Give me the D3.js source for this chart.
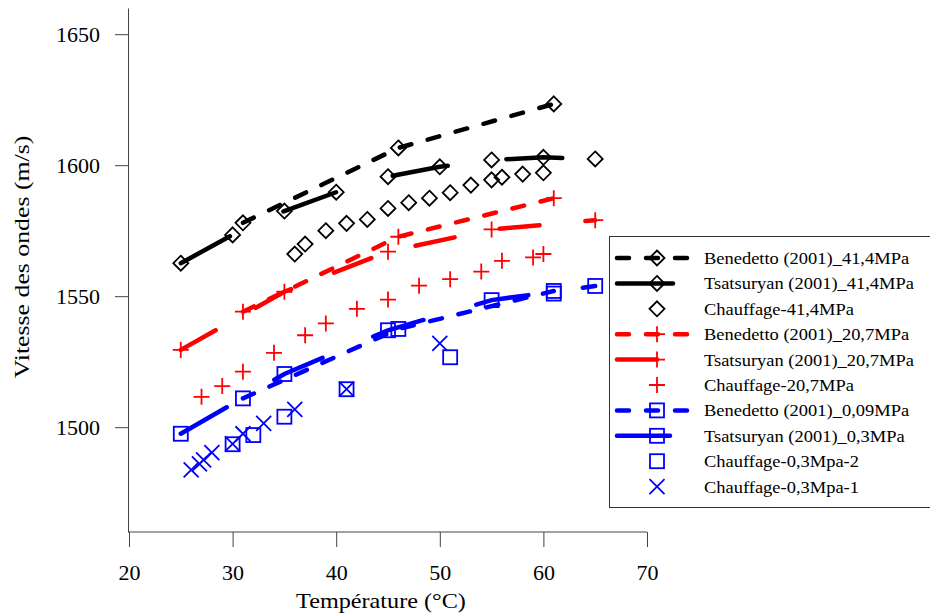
<!DOCTYPE html>
<html>
<head>
<meta charset="utf-8">
<script src="https://cdn.jsdelivr.net/npm/d3@7"></script>
<style>
  body { margin: 0; background: #fff; }
  svg { display: block; font-family: "Liberation Serif", "Times New Roman", serif; }
  .axis path, .axis line { stroke: #444; stroke-width: 1; }
  .axis text { font-size: 22px; fill: #000; font-family: "Liberation Serif", serif; }
</style>
</head>
<body>
<svg id="chart" width="930" height="614"></svg>
<script>
// ---- données ----
const benedettoT = [31, 46, 61];
const benedetto414 = [1578, 1606.6, 1623.4];
const benedetto207 = [1544.1, 1572.7, 1587.4];
const benedetto009 = [1511, 1537.5, 1552];

const tsatT414 = [25, 30, 35, 40, 45, 50, 55, 60, 65];
const tsat414 = [1562.6, 1573.4, 1582.5, 1589.7, 1595.6, 1599.4, 1602, 1603, 1602.4];
const tsatT = [25, 35, 45, 55, 65];
const tsat207 = [1529.5, 1551.7, 1567, 1575.5, 1579];
const tsat03 = [1497.5, 1520.3, 1537, 1548.5, 1553.9];

const chauffT414 = [36, 37, 39, 41, 43, 45, 47, 49, 51, 53, 55, 56, 58, 60];
const chauff414 = [1566.1, 1569.9, 1575, 1577.8, 1579.3, 1583.5, 1585.7, 1587.4, 1589.5, 1592.4, 1594.4, 1595.4, 1596.6, 1597.1];
const chauffT207 = [27, 29, 31, 34, 37, 39, 42, 45, 48, 51, 54, 56, 59, 60];
const chauff207 = [1511.6, 1515.7, 1521.2, 1528.4, 1535.1, 1539.6, 1545.2, 1548.7, 1554, 1556.5, 1559.4, 1563.5, 1564.8, 1566.1];
const chauffT03b = [30, 32, 35, 41, 51, 61];
const chauff03b = [1493.5, 1497, 1504, 1514.5, 1526.7, 1551];
const chauffT03a = [26, 26.8, 27.2, 28, 30, 31, 33, 36, 41, 50];
const chauff03a = [1483.7, 1486, 1487.5, 1490.3, 1493.6, 1497.5, 1501.5, 1506.8, 1514.5, 1532];

const xTicks = [20, 30, 40, 50, 60, 70];
const yTicks = [1500, 1550, 1600, 1650];

const zip = (xs, ys) => xs.map((x, i) => [x, ys[i]]);

// ---- séries ----
const series = [
  { name: "Benedetto (2001)_41,4MPa", color: "#000", dash: "12,17", sym: "diamond", pts: zip(benedettoT, benedetto414) },
  { name: "Tsatsuryan (2001)_41,4MPa", color: "#000", dash: "56,59", sym: "diamond", pts: zip(tsatT414, tsat414) },
  { name: "Chauffage-41,4MPa", color: "#000", dash: null, sym: "diamond", pts: zip(chauffT414, chauff414) },
  { name: "Benedetto (2001)_20,7MPa", color: "#ff0000", dash: "12,17", sym: "plus", pts: zip(benedettoT, benedetto207) },
  { name: "Tsatsuryan (2001)_20,7MPa", color: "#ff0000", dash: "40,46", sym: "plus", pts: zip(tsatT, tsat207) },
  { name: "Chauffage-20,7MPa", color: "#ff0000", dash: null, sym: "plus", pts: zip(chauffT207, chauff207) },
  { name: "Benedetto (2001)_0,09MPa", color: "#0000ff", dash: "12,17", sym: "square", pts: zip(benedettoT, benedetto009) },
  { name: "Tsatsuryan (2001)_0,3MPa", color: "#0000ff", dash: "53,55", sym: "square", pts: zip(tsatT, tsat03) },
  { name: "Chauffage-0,3Mpa-2", color: "#0000ff", dash: null, sym: "square", pts: zip(chauffT03b, chauff03b) },
  { name: "Chauffage-0,3Mpa-1", color: "#0000ff", dash: null, sym: "cross", pts: zip(chauffT03a, chauff03a) }
];

// ---- géométrie ----
const svg = d3.select("#chart");
const plotLeft = 128, plotRight = 647, plotTop = 8, plotBottom = 532;

const x = d3.scaleLinear().domain([20, 70]).range([plotLeft + 1, plotRight]);
const y = d3.scaleLinear().domain([1460, 1660]).range([plotBottom, plotTop]);

// axes
svg.append("g")
    .attr("class", "axis")
    .attr("transform", `translate(0,${plotBottom})`)
    .call(d3.axisBottom(x).tickValues(xTicks).tickSize(15).tickSizeOuter(0).tickPadding(17).tickFormat(d3.format("d")))
    .call(g => g.select(".domain").attr("d", `M${plotLeft},0H${plotRight}`));

svg.append("g")
    .attr("class", "axis")
    .attr("transform", `translate(${plotLeft},0)`)
    .call(d3.axisLeft(y).tickValues(yTicks).tickSize(13).tickSizeOuter(0).tickPadding(15).tickFormat(d3.format("d")));

// le texte de la figure d'origine est un peu étiré en largeur
svg.append("text")
    .attr("transform", "translate(381,608) scale(1.1,1)")
    .attr("text-anchor", "middle")
    .style("font-size", "22px")
    .text("Température (°C)");

svg.append("text")
    .attr("transform", "translate(29,257) rotate(-90) scale(1.2,1)")
    .attr("text-anchor", "middle")
    .style("font-size", "21.5px")
    .text("Vitesse des ondes (m/s)");

// ---- symboles ----
function drawSymbol(g, sym, color) {
    const r = 7.5;
    if (sym === "diamond") {
        g.append("path").attr("d", `M0,${-r}L${r},0L0,${r}L${-r},0Z`)
            .attr("fill", "none").attr("stroke", color).attr("stroke-width", 1.8);
    } else if (sym === "square") {
        g.append("rect").attr("x", -7).attr("y", -7).attr("width", 14).attr("height", 14)
            .attr("fill", "none").attr("stroke", color).attr("stroke-width", 1.8);
    } else if (sym === "plus") {
        g.append("path").attr("d", `M-8,0H8M0,-8V8`)
            .attr("stroke", color).attr("stroke-width", 1.8);
    } else if (sym === "cross") {
        g.append("path").attr("d", `M-7.5,-7.5L7.5,7.5M-7.5,7.5L7.5,-7.5`)
            .attr("stroke", color).attr("stroke-width", 1.8);
    }
}

const line = d3.line().x(d => x(d[0])).y(d => y(d[1]));
const plot = svg.append("g");

series.forEach(s => {
    if (s.dash) {
        plot.append("path")
            .datum(s.pts)
            .attr("d", line)
            .attr("fill", "none")
            .attr("stroke", s.color)
            .attr("stroke-width", 4.5)
            .attr("stroke-linecap", "round")
            .attr("stroke-dasharray", s.dash);
    }
});

series.forEach(s => {
    s.pts.forEach(p => {
        const g = plot.append("g").attr("transform", `translate(${x(p[0])},${y(p[1])})`);
        drawSymbol(g, s.sym, s.color);
    });
});

// ---- légende ----
const legend = svg.append("g");
legend.append("rect")
    .attr("x", 609.5).attr("y", 236.5)
    .attr("width", 330).attr("height", 271)
    .attr("fill", "#fff").attr("stroke", "#333").attr("stroke-width", 1);

series.forEach((s, i) => {
    const ly = 258 + i * 25.4;
    const row = legend.append("g").attr("transform", `translate(0,${ly})`);
    if (s.dash) {
        row.append("path")
            .attr("d", "M617,0H692")
            .attr("stroke", s.color)
            .attr("stroke-width", 4.5)
            .attr("stroke-linecap", "round")
            .attr("stroke-dasharray", s.dash);
    }
    drawSymbol(row.append("g").attr("transform", "translate(657,0)"), s.sym, s.color);
    row.append("text")
        .attr("transform", "translate(704,6) scale(1.12,1)")
        .style("font-size", "16.5px")
        .text(s.name);
});
</script>
</body>
</html>
